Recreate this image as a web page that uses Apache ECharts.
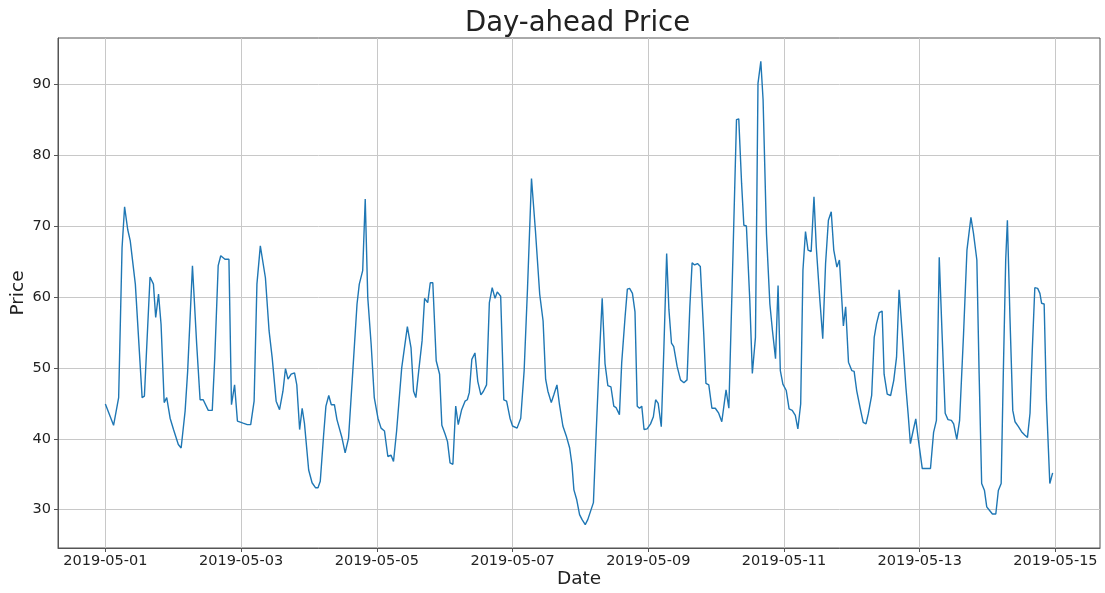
<!DOCTYPE html>
<html>
<head>
<meta charset="utf-8">
<script src="https://cdn.jsdelivr.net/npm/echarts@6/dist/echarts.min.js"></script>
<style>
html,body{margin:0;padding:0;background:#fff;}
#chart{width:1105px;height:593px;}
</style>
</head>
<body>
<div id="chart"></div>
<script>
// Hours since 2019-05-01 00:00
var hours = [0,2.9,4.7,5.9,6.8,7.9,8.8,10.6,13,13.8,15.8,17,17.8,18.8,19.7,20.8,21.7,22.9,24.1,25.8,26.8,28.2,29.1,30.8,32.3,33.5,
34.6,36.4,37.8,38.7,39.9,40.8,42.3,43.7,44.6,45.7,46.7,48.7,50.2,51.4,52.6,53.6,54.8,56.6,57.9,59,60.4,61.6,62.8,63.7,64.6,65.7,66.9,67.7,68.7,69.6,70.4,
71.9,73.1,74.3,75.2,76,77.2,78,79,79.9,81,81.9,83.7,84.8,86,87.5,89,89.8,91,91.9,92.8,94,95.1,96.4,97.5,98.7,99.9,101,101.9,103,104.8,106.8,108.1,
109,109.8,110.8,112,112.9,114,114.9,115.8,117,118.2,119,120.2,121,121.9,122.9,123.9,124.8,126,127.2,128,128.7,129.6,130.7,131.7,132.8,133.7,134.8,135.8,136.8,137.8,138.6,139.8,140.9,141.9,143.1,144,145.6,
146.9,148.1,149.3,150.7,152.1,153.6,154.8,155.7,156.5,157.7,158.6,159.7,160.6,161.8,163,164.2,165,165.7,166.7,167.7,168.6,169.7,170.6,171.6,172.6,173.6,174.7,175.7,176.7,177.7,178.8,179.8,180.6,181.8,
182.6,183.8,184.6,185.4,186.4,187.3,188.1,188.9,189.7,190.5,191.6,192.8,193.8,194.6,195.5,196.6,197.5,198.5,199.3,200.2,201,202.2,203.4,204.6,205.7,206.7,207.5,208.4,209.4,210.4,211.6,212.4,213.4,214.5,215.7,216.9,218,219.5,220.5,
222,223.2,224,225,225.8,226.7,227.9,228.8,229.9,230.8,231.8,232.6,233.8,235,235.9,237,237.9,238.7,239.6,240.8,241.8,242.9,244,244.9,245.9,246.7,247.6,248.5,249.6,250.6,251.4,252.6,253.7,254.7,255.7,256.7,257.6,258.7,259.6,
261,261.8,262.8,264,264.8,265.7,266.9,268,269,269.8,271,271.9,272.7,273.7,274.7,275.4,276.5,277.7,278.8,279.8,280.7,281.9,283.1,283.9,284.7,285.7,286.6,287.4,288.9,290.3,291.8,292.9,293.9,
294.9,295.9,297,298,299.2,300,301.1,302.1,303.5,304.7,306.1,307,308.2,309,309.9,310.9,311.7,312.5,313.7,314.9,315.8,316.8,317.6,318.4,319,319.9,320.9,321.7,322.9,324,325.2,326.1,327,327.8,328.7,329.7,330.5,331.1,332,332.8,334,335];

var prices = [44.9,41.9,45.8,66.9,72.7,69.5,67.9,61.8,45.8,46,62.8,61.8,57.1,60.4,56.1,45.1,45.8,42.9,41.3,39.2,38.7,43.9,49.5,64.4,53.3,45.5,
45.5,44,44,51.5,64.4,65.8,65.3,65.3,44.8,47.6,42.5,42.2,42,42,45.3,61.8,67.2,62.7,55.2,51.4,45.3,44.1,46.7,49.9,48.4,49.1,49.3,47.6,41.3,44.3,42.2,
35.6,33.8,33.1,33.1,34,40.6,44.6,46.1,44.8,44.8,42.7,40.1,38,40.1,49.5,59,61.8,63.7,73.8,59.9,53.3,45.8,42.9,41.5,41.1,37.5,37.7,36.8,41.1,50,55.8,52.8,
46.7,45.8,49.5,53.8,59.8,59.2,62,62,51,49.1,41.9,40.6,39.6,36.6,36.4,44.6,42,44.1,45.3,45.5,46.5,51.2,52.1,48.1,46.2,46.7,47.6,59.2,61.3,59.8,60.7,60.1,45.5,45.3,42.9,41.8,41.5,
42.9,49.6,61.3,76.7,69.3,60.4,56.6,48.4,46.7,45.1,46.2,47.6,44.8,41.8,40.4,38.7,36.4,32.8,31.4,29.3,28.6,27.9,28.6,29.8,31,41.1,51.5,59.8,50.6,47.5,47.3,44.6,44.4,43.4,
50.7,57.2,61.1,61.2,60.5,57.9,44.6,44.3,44.6,41.3,41.4,42.1,43.1,45.5,45,41.7,52.5,66.1,58.2,53.5,53,50.2,48.3,47.9,48.3,58.6,64.8,64.5,64.7,64.3,54.9,47.8,47.6,44.3,44.3,43.6,42.4,46.9,44.3,
66.6,85,85.1,76,70.1,70,59.5,49.2,54.3,90.1,93.2,87.8,68.9,59,55.3,51.3,61.6,49.6,47.7,46.8,44.2,44,43.3,41.4,44.9,63.8,69.2,66.6,66.4,74.1,67.1,60,54.1,64.7,70.8,72,66.6,64.2,65.2,
55.9,58.6,50.8,49.6,49.5,46.8,44.4,42.3,42.1,43.5,46.1,54.3,56.2,57.8,58,49.1,46.3,46.1,48.2,51.5,61,54.3,47.3,43.5,39.3,41.2,42.8,40.2,35.8,35.8,35.8,40.9,42.6,
65.6,54.8,43.6,42.7,42.6,42.1,39.9,42.6,54.8,66.6,71.2,69,65.2,49.2,33.7,32.7,30.4,30,29.4,29.4,32.7,33.7,50.1,65.2,70.8,57.2,44,42.4,41.7,41,40.5,40.2,43.6,52.5,61.3,61.2,60.5,59.1,59,45.4,33.7,35.2];

var xTickHours = [0,48,96,144,192,240,288,336];
var xTickLabels = ['2019-05-01','2019-05-03','2019-05-05','2019-05-07','2019-05-09','2019-05-11','2019-05-13','2019-05-15'];
var yTicks = [30,40,50,60,70,80,90];

var seriesData = hours.map(function(h, i){ return [h, prices[i]]; });

var chart = echarts.init(document.getElementById('chart'), null, {renderer:'canvas'});
var txt = '#222';
var spine = '#555';
var font = 'DejaVu Sans';
chart.setOption({
  animation: false,
  backgroundColor: '#fff',
  title: {
    text: 'Day-ahead Price',
    left: 465, top: 10, padding: 0,
    textStyle: {fontFamily: font, fontSize: 27.5, fontWeight: 'normal', color: txt}
  },
  grid: {left: 58, right: 5, top: 38, bottom: 45, outerBoundsMode: 'none', containLabel: false,
    show: true, borderColor: spine, borderWidth: 1, backgroundColor: 'transparent'},
  xAxis: {
    type: 'value', min: -16.75, max: 351.75,
    name: 'Date', nameLocation: 'middle', nameGap: 22, nameMoveOverlap: false,
    nameTextStyle: {fontFamily: font, fontSize: 18.5, color: txt},
    axisLine: {show: true, onZero: false, lineStyle: {color: spine, width: 1}},
    axisTick: {show: true, length: 4, customValues: xTickHours, lineStyle: {color: spine}},
    axisLabel: {customValues: xTickHours, margin: 6, fontFamily: font, fontSize: 14.5, color: txt,
      formatter: function(v){ var i = xTickHours.indexOf(v); return i >= 0 ? xTickLabels[i] : ''; }},
    splitLine: {show: true, lineStyle: {color: '#c8c8c8', width: 1}}
  },
  yAxis: {
    type: 'value', min: 24.6, max: 96.5,
    name: 'Price', nameLocation: 'middle', nameGap: 30, nameMoveOverlap: false,
    nameTextStyle: {fontFamily: font, fontSize: 18.5, color: txt},
    axisLine: {show: true, onZero: false, lineStyle: {color: spine, width: 1}},
    axisTick: {show: true, length: 4, customValues: yTicks, lineStyle: {color: spine}},
    axisLabel: {customValues: yTicks, margin: 7, fontFamily: font, fontSize: 14.5, color: txt},
    splitLine: {show: true, lineStyle: {color: '#c8c8c8', width: 1}}
  },
  series: [{
    type: 'line', data: seriesData, showSymbol: false, symbol: 'none',
    lineStyle: {color: '#1f77b4', width: 1.4}, itemStyle: {color: '#1f77b4'}
  }]
});
</script>
</body>
</html>
